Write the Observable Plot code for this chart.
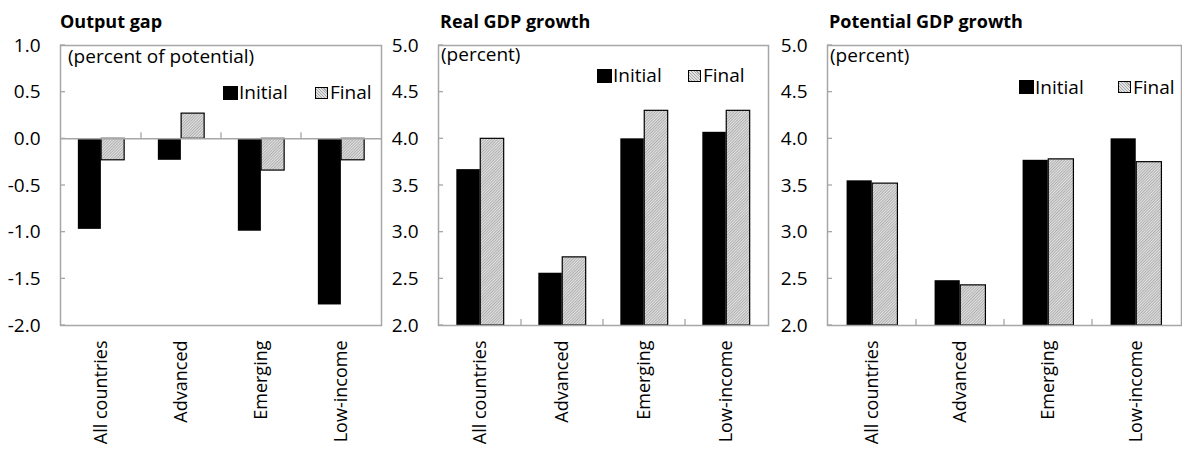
<!DOCTYPE html>
<html><head><meta charset="utf-8">
<script src="https://cdn.jsdelivr.net/npm/d3@7"></script>
<script src="https://cdn.jsdelivr.net/npm/@observablehq/plot@0.6"></script>
<style>
body{margin:0;background:#fff;font-family:"Open Sans",sans-serif;color:#000}
#wrap{position:relative;width:1182px;height:450px;overflow:hidden;background:#fff}
.panel{position:absolute;top:0}
.txt{position:absolute;font-size:19px;line-height:19px;white-space:nowrap}
.title{font-weight:bold;font-size:18px;line-height:18px}
.sw{position:absolute;box-sizing:border-box}
.sw.init{background:#000}
.sw.fin{border:1.3px solid #000;background:repeating-linear-gradient(45deg,#a8a8a8 0 0.8px,#e2e2e2 0.8px 2px)}
</style></head>
<body><div id="wrap"></div>
<script>
// ---- data ----
const categories = ["All countries", "Advanced", "Emerging", "Low-income"];
const seriesNames = ["Initial", "Final"];
const outputGapInitial = [-0.97, -0.23, -0.99, -1.78];
const outputGapFinal   = [-0.23,  0.27, -0.34, -0.23];
const realGrowthInitial = [3.67, 2.56, 4.00, 4.07];
const realGrowthFinal   = [4.00, 2.73, 4.30, 4.30];
const potGrowthInitial = [3.55, 2.48, 3.77, 4.00];
const potGrowthFinal   = [3.52, 2.43, 3.78, 3.75];
const ticksGap = [-2.0, -1.5, -1.0, -0.5, 0.0, 0.5, 1.0];
const ticksGrowth = [2.0, 2.5, 3.0, 3.5, 4.0, 4.5, 5.0];
const titles = ["Output gap", "Real GDP growth", "Potential GDP growth"];
const subtitles = ["(percent of potential)", "(percent)", "(percent)"];

const panels = [
  {left: 0, width: 390, ml: 60, mr: 9, domain: [-2, 1], base: 0, ticks: ticksGap,
   init: outputGapInitial, fin: outputGapFinal, title: titles[0], sub: subtitles[0],
   tx: 60, sx: 68, sy: 47, leg: {x: 223, y: 86, fx: 315, ty: 83}},
  {left: 390, width: 390, ml: 48, mr: 12, domain: [2, 5], base: 2, ticks: ticksGrowth,
   init: realGrowthInitial, fin: realGrowthFinal, title: titles[1], sub: subtitles[1],
   tx: 440, sx: 441, sy: 45, leg: {x: 597, y: 69, fx: 688, ty: 66}},
  {left: 780, width: 402, ml: 47, mr: 1, domain: [2, 5], base: 2, ticks: ticksGrowth,
   init: potGrowthInitial, fin: potGrowthFinal, title: titles[2], sub: subtitles[2],
   tx: 829, sx: 830, sy: 46, leg: {x: 1019, y: 80, fx: 1118, ty: 78}}
];

const H = 450, MT = 45, MB = 125;
const wrap = document.getElementById("wrap");
const GRAY = "#a6a6a6";

panels.forEach((p, i) => {
  const rows = categories.map((c, k) => ({cat: c, initial: p.init[k], final: p.fin[k]}));
  const bw = (p.width - p.ml - p.mr) / categories.length;
  const barW = bw * 0.29;
  const pad = (bw - 2 * barW) / 2;
  const pid = "hatch" + i;
  const marks = [
    Plot.axisX({tickRotate: -90, tickSize: 0, tickPadding: 15, fontSize: 18, label: null}),
    Plot.axisY({ticks: p.ticks, tickFormat: d => d.toFixed(1), tickSize: 0, tickPadding: 20, fontSize: 19, label: null}),
    Plot.barY(rows, {x: "cat", y1: () => p.base, y2: "initial", fill: "#000",
      insetLeft: pad, insetRight: bw - pad - barW}),
    Plot.barY(rows, {x: "cat", y1: () => p.base, y2: "final", fill: `url(#${pid})`,
      stroke: "#000", strokeWidth: 1.2, insetLeft: pad + barW, insetRight: pad})
  ];
  if (p.base === 0 && p.domain[0] < 0) marks.push(Plot.ruleY([0], {stroke: GRAY, strokeWidth: 1.5}));
  marks.push(Plot.frame({stroke: GRAY, strokeWidth: 1.5}));

  const svg = Plot.plot({
    width: p.width, height: H,
    marginLeft: p.ml, marginRight: p.mr, marginTop: MT, marginBottom: MB,
    style: {fontFamily: "'Open Sans', sans-serif", fontSize: "19px", color: "#000", background: "transparent", overflow: "visible"},
    x: {domain: categories, padding: 0},
    y: {domain: p.domain},
    marks
  });

  const s = d3.select(svg);
  const defs = s.insert("defs", ":first-child");
  const pat = defs.append("pattern").attr("id", pid).attr("width", 2).attr("height", 2)
    .attr("patternUnits", "userSpaceOnUse").attr("patternTransform", "rotate(45)");
  pat.append("rect").attr("width", 2).attr("height", 2).attr("fill", "#e2e2e2");
  pat.append("rect").attr("width", 0.8).attr("height", 2).attr("fill", "#a4a4a4");

  const xs = svg.scale("x"), ys = svg.scale("y");
  const g = s.append("g").attr("stroke", GRAY).attr("stroke-width", 1.3);
  const x0 = p.ml;
  // inner y ticks
  p.ticks.forEach(t => {
    const y = ys.apply(t);
    g.append("line").attr("x1", x0).attr("x2", x0 + 5).attr("y1", y).attr("y2", y);
  });
  // category separators
  const yb = ys.apply(p.base);
  categories.slice(1).forEach(c => {
    const x = xs.apply(c);
    g.append("line").attr("x1", x).attr("x2", x).attr("y1", yb).attr("y2", yb - 6);
  });

  const div = document.createElement("div");
  div.className = "panel";
  div.style.left = p.left + "px";
  div.appendChild(svg);
  wrap.appendChild(div);

  const addTxt = (text, x, y, cls) => {
    const d = document.createElement("div");
    d.className = "txt " + (cls || "");
    d.textContent = text;
    d.style.left = x + "px"; d.style.top = y + "px";
    wrap.appendChild(d);
  };
  addTxt(p.title, p.tx, 12, "title");
  addTxt(p.sub, p.sx, p.sy);
  const sw1 = document.createElement("div");
  sw1.className = "sw init";
  Object.assign(sw1.style, {left: p.leg.x + "px", top: p.leg.y + "px", width: "15px", height: "14px"});
  wrap.appendChild(sw1);
  addTxt(seriesNames[0], p.leg.x + 16, p.leg.ty);
  const sw2 = document.createElement("div");
  sw2.className = "sw fin";
  Object.assign(sw2.style, {left: p.leg.fx + "px", top: (p.leg.y + 1) + "px", width: "13px", height: "12px"});
  wrap.appendChild(sw2);
  addTxt(seriesNames[1], p.leg.fx + 15, p.leg.ty);
});
</script>
</body></html>
